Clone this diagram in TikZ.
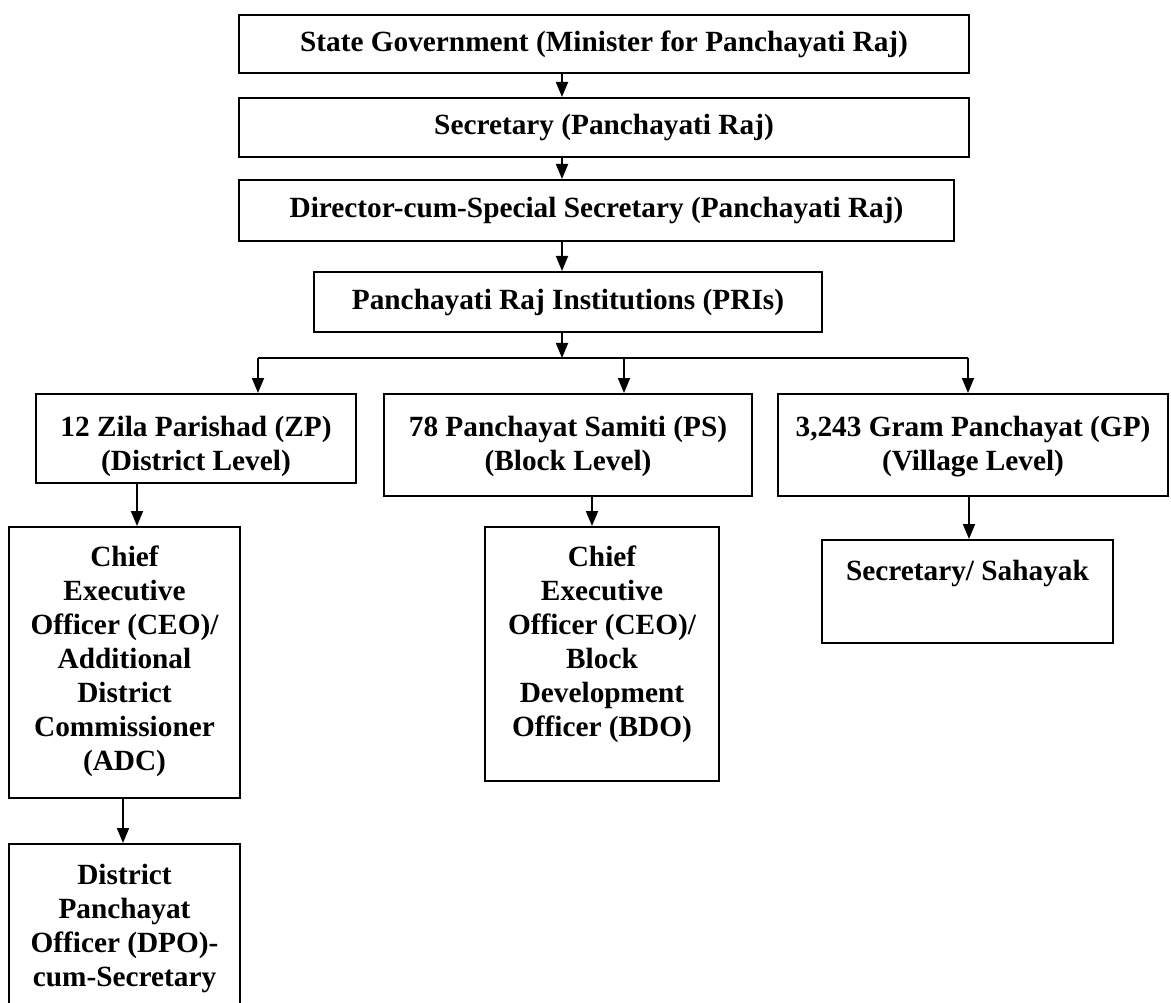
\documentclass[tikz,border=0pt]{standalone}
\usepackage{fontspec}
\setmainfont{Liberation Serif}
\usetikzlibrary{arrows.meta}

\begin{document}
\begin{tikzpicture}[x=1pt, y=-1pt, line join=miter]
\tikzstyle{office} = [draw, line width=2pt, inner sep=0pt, align=flush center, font=\bfseries\fontsize{29.3}{34}\selectfont]
\tikzstyle{downarr} = [draw, line width=1.8pt, -{Triangle[length=15pt,width=12pt]}]
  \useasboundingbox (0,0) rectangle (1171,1003);
  \clip (0,0) rectangle (1171,1003);
  % state level
  \node[office, minimum width=730, minimum height=58] (state) at (604,44) {State Government (Minister for Panchayati Raj)};
  \node[office, minimum width=730, minimum height=59] (secy) at (604,127.5) {Secretary (Panchayati Raj)};
  \node[office, minimum width=715, minimum height=61] (dir) at (596.5,210.5) {Director-cum-Special Secretary (Panchayati Raj)};
  \node[office, minimum width=508, minimum height=60] (pri) at (568,302) {Panchayati Raj Institutions (PRIs)};
  % three tiers
  \node[office, anchor=north, text width=320, text height=42, text depth=47] (zp) at (196,393) {12 Zila Parishad (ZP)\\(District Level)};
  \node[office, anchor=north, text width=368, text height=42, text depth=60] (ps) at (568,393) {78 Panchayat Samiti (PS)\\(Block Level)};
  \node[office, anchor=north, text width=390, text height=42, text depth=60] (gp) at (973,393) {3,243 Gram Panchayat (GP)\\(Village Level)};
  % officers
  \node[office, anchor=north, text width=231, text height=39, text depth=232] (ceo1) at (124.5,526) {Chief\\Executive\\Officer (CEO)/\\Additional\\District\\Commissioner\\(ADC)};
  \node[office, anchor=north, text width=234, text height=39, text depth=215] (ceo2) at (602,526) {Chief\\Executive\\Officer (CEO)/\\Block\\Development\\Officer (BDO)};
  \node[office, anchor=north, text width=291, text height=40, text depth=63] (sahayak) at (967.5,539) {Secretary/ Sahayak};
  \node[office, anchor=north, text width=231, text height=40, text depth=180] (dpo) at (124.5,843) {District\\Panchayat\\Officer (DPO)-\\cum-Secretary};
  % connectors
  \coordinate (spine) at (562,0);
  \coordinate (busL) at (258,358);
  \coordinate (busM) at (562,358);
  \coordinate (busC) at (624,358);
  \coordinate (busR) at (968,358);
  \coordinate (c1) at (137,0);
  \coordinate (c2) at (592,0);
  \coordinate (c3) at (969,0);
  \coordinate (c4) at (123,0);
  \draw[downarr] (state.south -| spine) -- (secy.north -| spine);
  \draw[downarr] (secy.south -| spine) -- (dir.north -| spine);
  \draw[downarr] (dir.south -| spine) -- (pri.north -| spine);
  \draw[downarr] (pri.south -| spine) -- (busM);
  \draw[line width=1.8pt] (busL) -- (busR);
  \foreach \b/\n in {busL/zp, busC/ps, busR/gp}{
    \draw[downarr] (\b) -- (\b |- \n.north);
  }
  \draw[downarr] (zp.south -| c1) -- (ceo1.north -| c1);
  \draw[downarr] (ps.south -| c2) -- (ceo2.north -| c2);
  \draw[downarr] (gp.south -| c3) -- (sahayak.north -| c3);
  \draw[downarr] (ceo1.south -| c4) -- (dpo.north -| c4);
\end{tikzpicture}
\end{document}
